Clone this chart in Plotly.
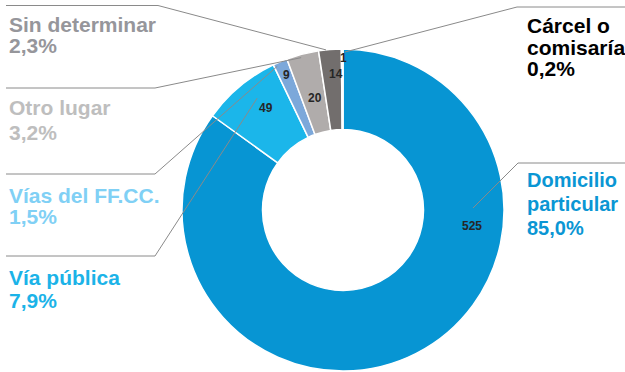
import math
import plotly.graph_objects as go

# ---- data ----
categories = ["Domicilio\nparticular", "Vía pública", "Vías del FF.CC.",
              "Otro lugar", "Sin determinar", "Cárcel o\ncomisaría"]
values = [525, 49, 9, 20, 14, 1]
pct_labels = ["85,0%", "7,9%", "1,5%", "3,2%", "2,3%", "0,2%"]

# ---- styles ----
slice_colors = ["#0795D3", "#1BB6EA", "#7CA8DA", "#B0ACAB", "#726E6D", "#E6E6E6"]
label_colors = ["#0A96D4", "#1BB3E8", "#80D0F5", "#BEBEBE", "#96969B", "#000000"]
label_sizes = [20, 21, 21, 21, 21, 21]

W, H = 625, 372
CX, CY, R = 343, 210, 161      # donut centre / outer radius in pixels
FONT = "Liberation Sans, Arial, sans-serif"

# label block layout: x (left), first baseline, line step
label_pos = [(525, 187, 24), (7, 284, 23), (7, 202, 21),
             (7, 115, 24), (7, 31.5, 20.5), (525, 33, 21)]
# leader elbow: start x, y, elbow x
leader_pos = [(625, 163, 518), (6, 256, 155), (6, 174, 155),
              (6, 88, 155), (6, 5.5, 158), (625, 7, 517)]
# leader anchor on ring: angle offset from slice middle (deg), radius (px)
leader_anchor = [(-63.8, 130), (2.4, 141), (-1.6, 158),
                 (-0.8, 158), (-1.4, 161), (1.0, 158)]
# value labels inside ring: angle offset (deg), radius (px)
value_anchor = [(-55.8, 130), (2.7, 128), (0.3, 146),
                (0.4, 116), (1.8, 136), (0.3, 152)]


def px(x):
    return x / W


def py(y):
    return 1 - y / H


def polar(angle_deg, r):
    a = math.radians(angle_deg)
    return CX + r * math.sin(a), CY - r * math.cos(a)


total = sum(values)
mids = []
acc = 0
for v in values:
    mids.append((acc + v / 2) / total * 360)
    acc += v

fig = go.Figure(go.Pie(
    values=values,
    labels=[c.replace("\n", " ") for c in categories],
    sort=False, direction="clockwise", rotation=0, hole=0.5,
    marker=dict(colors=slice_colors, line=dict(color="white", width=1.5)),
    textinfo="none", showlegend=False,
    domain=dict(x=[px(CX - R), px(CX + R)], y=[py(CY + R), py(CY - R)]),
))

shapes = []
annotations = []
for i, cat in enumerate(categories):
    # leader line
    sx, sy, ex = leader_pos[i]
    off, rr = leader_anchor[i]
    ax, ay = polar(mids[i] + off, rr)
    shapes.append(dict(
        type="path", xref="paper", yref="paper",
        path=f"M {px(sx)},{py(sy)} L {px(ex)},{py(sy)} L {px(ax)},{py(ay)}",
        line=dict(color="#8A8A8A", width=1),
    ))
    # category label lines
    lx, base, step = label_pos[i]
    lines = cat.split("\n") + [pct_labels[i]]
    for k, t in enumerate(lines):
        annotations.append(dict(
            xref="paper", yref="paper", x=px(lx), y=py(base + k * step - 7),
            xanchor="left", yanchor="middle", showarrow=False,
            text=f"<b>{t}</b>",
            font=dict(family=FONT, size=label_sizes[i], color=label_colors[i]),
        ))
    # value label in the ring
    voff, vr = value_anchor[i]
    vx, vy = polar(mids[i] + voff, vr)
    annotations.append(dict(
        xref="paper", yref="paper", x=px(vx), y=py(vy),
        xanchor="center", yanchor="middle", showarrow=False,
        text=f"<b>{values[i]}</b>",
        font=dict(family=FONT, size=12, color="#262626"),
    ))

fig.update_layout(
    width=W, height=H, autosize=False,
    margin=dict(l=0, r=0, t=0, b=0),
    paper_bgcolor="white", plot_bgcolor="white",
    shapes=shapes, annotations=annotations,
)

fig.write_html(
    "out.html",
    config={"displayModeBar": False},
    post_script="document.body.style.margin='0';document.body.style.padding='0';"
                "document.body.style.overflow='hidden';",
)
